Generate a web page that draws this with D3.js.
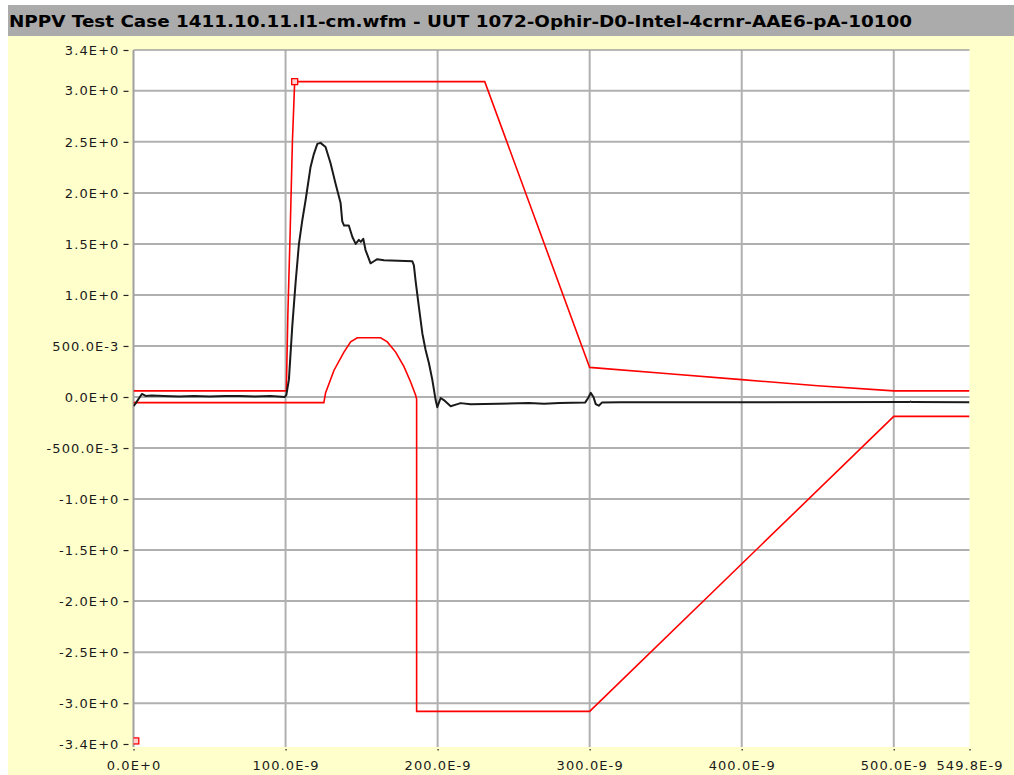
<!DOCTYPE html>
<html>
<head>
<meta charset="utf-8">
<script src="https://cdnjs.cloudflare.com/ajax/libs/d3/7.8.5/d3.min.js"></script>
<style>
  body { margin: 0; background: #ffffff; }
  svg { display: block; }
  .tick text { font-family: "DejaVu Sans", sans-serif; font-size: 13px; letter-spacing: 1.1px; fill: #1a1a1a; }
</style>
</head>
<body>
<svg></svg>
<script>
const title = "NPPV Test Case 1411.10.11.l1-cm.wfm - UUT 1072-Ophir-D0-Intel-4crnr-AAE6-pA-10100";

// x in ns, y in volts
const xTicks = [0, 100, 200, 300, 400, 500, 549.8];
const xTickLabels = ["0.0E+0", "100.0E-9", "200.0E-9", "300.0E-9", "400.0E-9", "500.0E-9", "549.8E-9"];
const yTicks = [3.4, 3.0, 2.5, 2.0, 1.5, 1.0, 0.5, 0.0, -0.5, -1.0, -1.5, -2.0, -2.5, -3.0, -3.4];
const yTickLabels = ["3.4E+0", "3.0E+0", "2.5E+0", "2.0E+0", "1.5E+0", "1.0E+0", "500.0E-3", "0.0E+0",
  "-500.0E-3", "-1.0E+0", "-1.5E+0", "-2.0E+0", "-2.5E+0", "-3.0E+0", "-3.4E+0"];

const upperMask = [
  [0, 0.06], [100.5, 0.06], [101.5, 0.8], [103, 1.6], [104.5, 2.5], [106, 3.09],
  [231, 3.09], [300, 0.29], [350, 0.23], [400, 0.17], [450, 0.11], [500, 0.06], [549.8, 0.06]
];

const lowerMask = [
  [0, -0.055], [125.2, -0.055], [126.3, 0.04], [131.8, 0.26], [138.4, 0.44], [142.8, 0.54],
  [147.2, 0.58], [162.5, 0.58], [166.9, 0.54], [172.4, 0.44], [177.8, 0.3], [182.2, 0.15],
  [185.5, 0.02], [186.2, -0.02], [186.2, -3.08], [300, -3.08], [500, -0.19], [549.8, -0.19]
];

const waveform = [
  [0, -0.09], [1.5, -0.06], [5.5, 0.03], [8, 0.01], [12, 0.015], [20, 0.01], [30, 0.005],
  [40, 0.01], [50, 0.005], [60, 0.01], [70, 0.01], [80, 0.005], [90, 0.01], [99.5, 0.0],
  [100.5, 0.02], [102.2, 0.17], [104.4, 0.69], [106.6, 1.12], [108.8, 1.5], [111, 1.73],
  [113.2, 1.93], [116.4, 2.25], [118.6, 2.38], [120.9, 2.48], [123, 2.49], [126.3, 2.45],
  [129.6, 2.29], [132.9, 2.09], [136.2, 1.9], [137.3, 1.72], [138.5, 1.68], [141.6, 1.68],
  [143.9, 1.57], [146.1, 1.5], [148.2, 1.54], [149.5, 1.52], [151.1, 1.55], [152.6, 1.44],
  [155.9, 1.31], [158.1, 1.33], [160.3, 1.35], [164.7, 1.34], [183.4, 1.33], [184.4, 1.29],
  [185.5, 1.14], [187.7, 0.88], [190, 0.62], [192.1, 0.46], [194.3, 0.33], [196.5, 0.17],
  [198.7, -0.03], [199.8, -0.1], [202, -0.01], [204.1, -0.03], [208.6, -0.09], [213, -0.07],
  [215.1, -0.06], [221.7, -0.07], [240, -0.065], [260, -0.06], [270, -0.065], [280, -0.06],
  [297, -0.055], [299, -0.01], [300.7, 0.04], [302.5, 0.0], [304, -0.07], [306, -0.085],
  [308, -0.055], [320, -0.052], [400, -0.052], [510, -0.05], [511, -0.045], [512, -0.05],
  [549.8, -0.052]
];

const markers = [[106, 3.09], [1.5, -3.37]];

const width = 1014;
const height = 775;
const plot = { left: 133.5, right: 969.5, top: 50, bottom: 744 };
const svg = d3.select("svg");
let xScale;
let yScale;

const drawCanvas = () => {
  svg.attr("width", width).attr("height", height);

  // yellow panel + grey title bar
  svg.append("rect").attr("x", 8).attr("y", 5).attr("width", width - 8).attr("height", height - 5).attr("fill", "#ffffcc");
  svg.append("rect").attr("x", 8).attr("y", 5).attr("width", width - 8).attr("height", 31).attr("fill", "#ababab");
  svg.append("text")
    .attr("x", 9)
    .attr("y", 27)
    .attr("textLength", 903)
    .attr("lengthAdjust", "spacingAndGlyphs")
    .style("font-family", "'DejaVu Sans', sans-serif")
    .style("font-size", "16px")
    .style("font-weight", "bold")
    .attr("fill", "#000")
    .text(title);

  svg.append("rect")
    .attr("x", plot.left)
    .attr("y", plot.top)
    .attr("width", plot.right - plot.left)
    .attr("height", plot.bottom - plot.top + 3)
    .attr("fill", "#ffffff");

  svg.append("clipPath").attr("id", "plot-clip")
    .append("rect")
    .attr("x", plot.left)
    .attr("y", plot.top)
    .attr("width", plot.right - plot.left)
    .attr("height", plot.bottom - plot.top + 3);
};

const generateScales = () => {
  xScale = d3.scaleLinear().domain([0, 549.8]).range([plot.left, plot.right]);
  yScale = d3.scaleLinear().domain([-3.4, 3.4]).range([plot.bottom, plot.top]);
};

const drawGrid = () => {
  const grid = svg.append("g").attr("stroke", "#b0b0b0").attr("stroke-width", 2);

  grid.selectAll(".hgrid")
    .data(yTicks.filter((d) => Math.abs(d) < 3.4))
    .enter()
    .append("line")
    .attr("x1", plot.left)
    .attr("x2", plot.right)
    .attr("y1", (d) => yScale(d))
    .attr("y2", (d) => yScale(d));

  grid.selectAll(".vgrid")
    .data(xTicks.filter((d) => d > 0 && d < 549.8))
    .enter()
    .append("line")
    .attr("x1", (d) => xScale(d))
    .attr("x2", (d) => xScale(d))
    .attr("y1", plot.top)
    .attr("y2", plot.bottom + 3);

  // frame: left axis and top border
  svg.append("line")
    .attr("x1", plot.left).attr("x2", plot.left)
    .attr("y1", plot.top).attr("y2", plot.bottom + 3)
    .attr("stroke", "#a0a0a0").attr("stroke-width", 2);
  svg.append("line")
    .attr("x1", plot.left).attr("x2", plot.right)
    .attr("y1", plot.top).attr("y2", plot.top)
    .attr("stroke", "#a0a0a0").attr("stroke-width", 1.5);
};

const drawLines = () => {
  const line = d3.line().x((d) => xScale(d[0])).y((d) => yScale(d[1]));
  const layer = svg.append("g").attr("clip-path", "url(#plot-clip)");

  layer.append("path").datum(upperMask)
    .attr("d", line).attr("fill", "none").attr("stroke", "#ff0000").attr("stroke-width", 1.6);
  layer.append("path").datum(lowerMask)
    .attr("d", line).attr("fill", "none").attr("stroke", "#ff0000").attr("stroke-width", 1.6);
  layer.append("path").datum(waveform)
    .attr("d", line).attr("fill", "none").attr("stroke", "#1a1a1a").attr("stroke-width", 2)
    .attr("stroke-linejoin", "round");

  layer.selectAll(".marker")
    .data(markers)
    .enter()
    .append("rect")
    .attr("x", (d) => xScale(d[0]) - 3)
    .attr("y", (d) => yScale(d[1]) - 3)
    .attr("width", 6)
    .attr("height", 6)
    .attr("fill", "#ffd0d0")
    .attr("stroke", "#ff0000")
    .attr("stroke-width", 1.3);
};

const generateAxis = () => {
  const yAxis = d3.axisLeft(yScale)
    .tickValues(yTicks)
    .tickFormat((d, i) => yTickLabels[i])
    .tickSize(5)
    .tickPadding(4);

  const xAxis = d3.axisBottom(xScale)
    .tickValues(xTicks)
    .tickFormat((d, i) => xTickLabels[i])
    .tickSize(1.5)
    .tickPadding(10);

  const gy = svg.append("g")
    .attr("id", "y-axis")
    .attr("transform", "translate(" + (plot.left - 5) + ",0)")
    .call(yAxis);
  gy.select(".domain").remove();
  gy.selectAll(".tick line").attr("stroke", "#222").attr("stroke-width", 1.2);

  const gx = svg.append("g")
    .attr("id", "x-axis")
    .attr("transform", "translate(0," + (plot.bottom + 5) + ")")
    .call(xAxis);
  gx.select(".domain").remove();
  gx.selectAll(".tick line").attr("stroke", "#444").attr("stroke-width", 1.5);
};

drawCanvas();
generateScales();
drawGrid();
drawLines();
generateAxis();
</script>
</body>
</html>
